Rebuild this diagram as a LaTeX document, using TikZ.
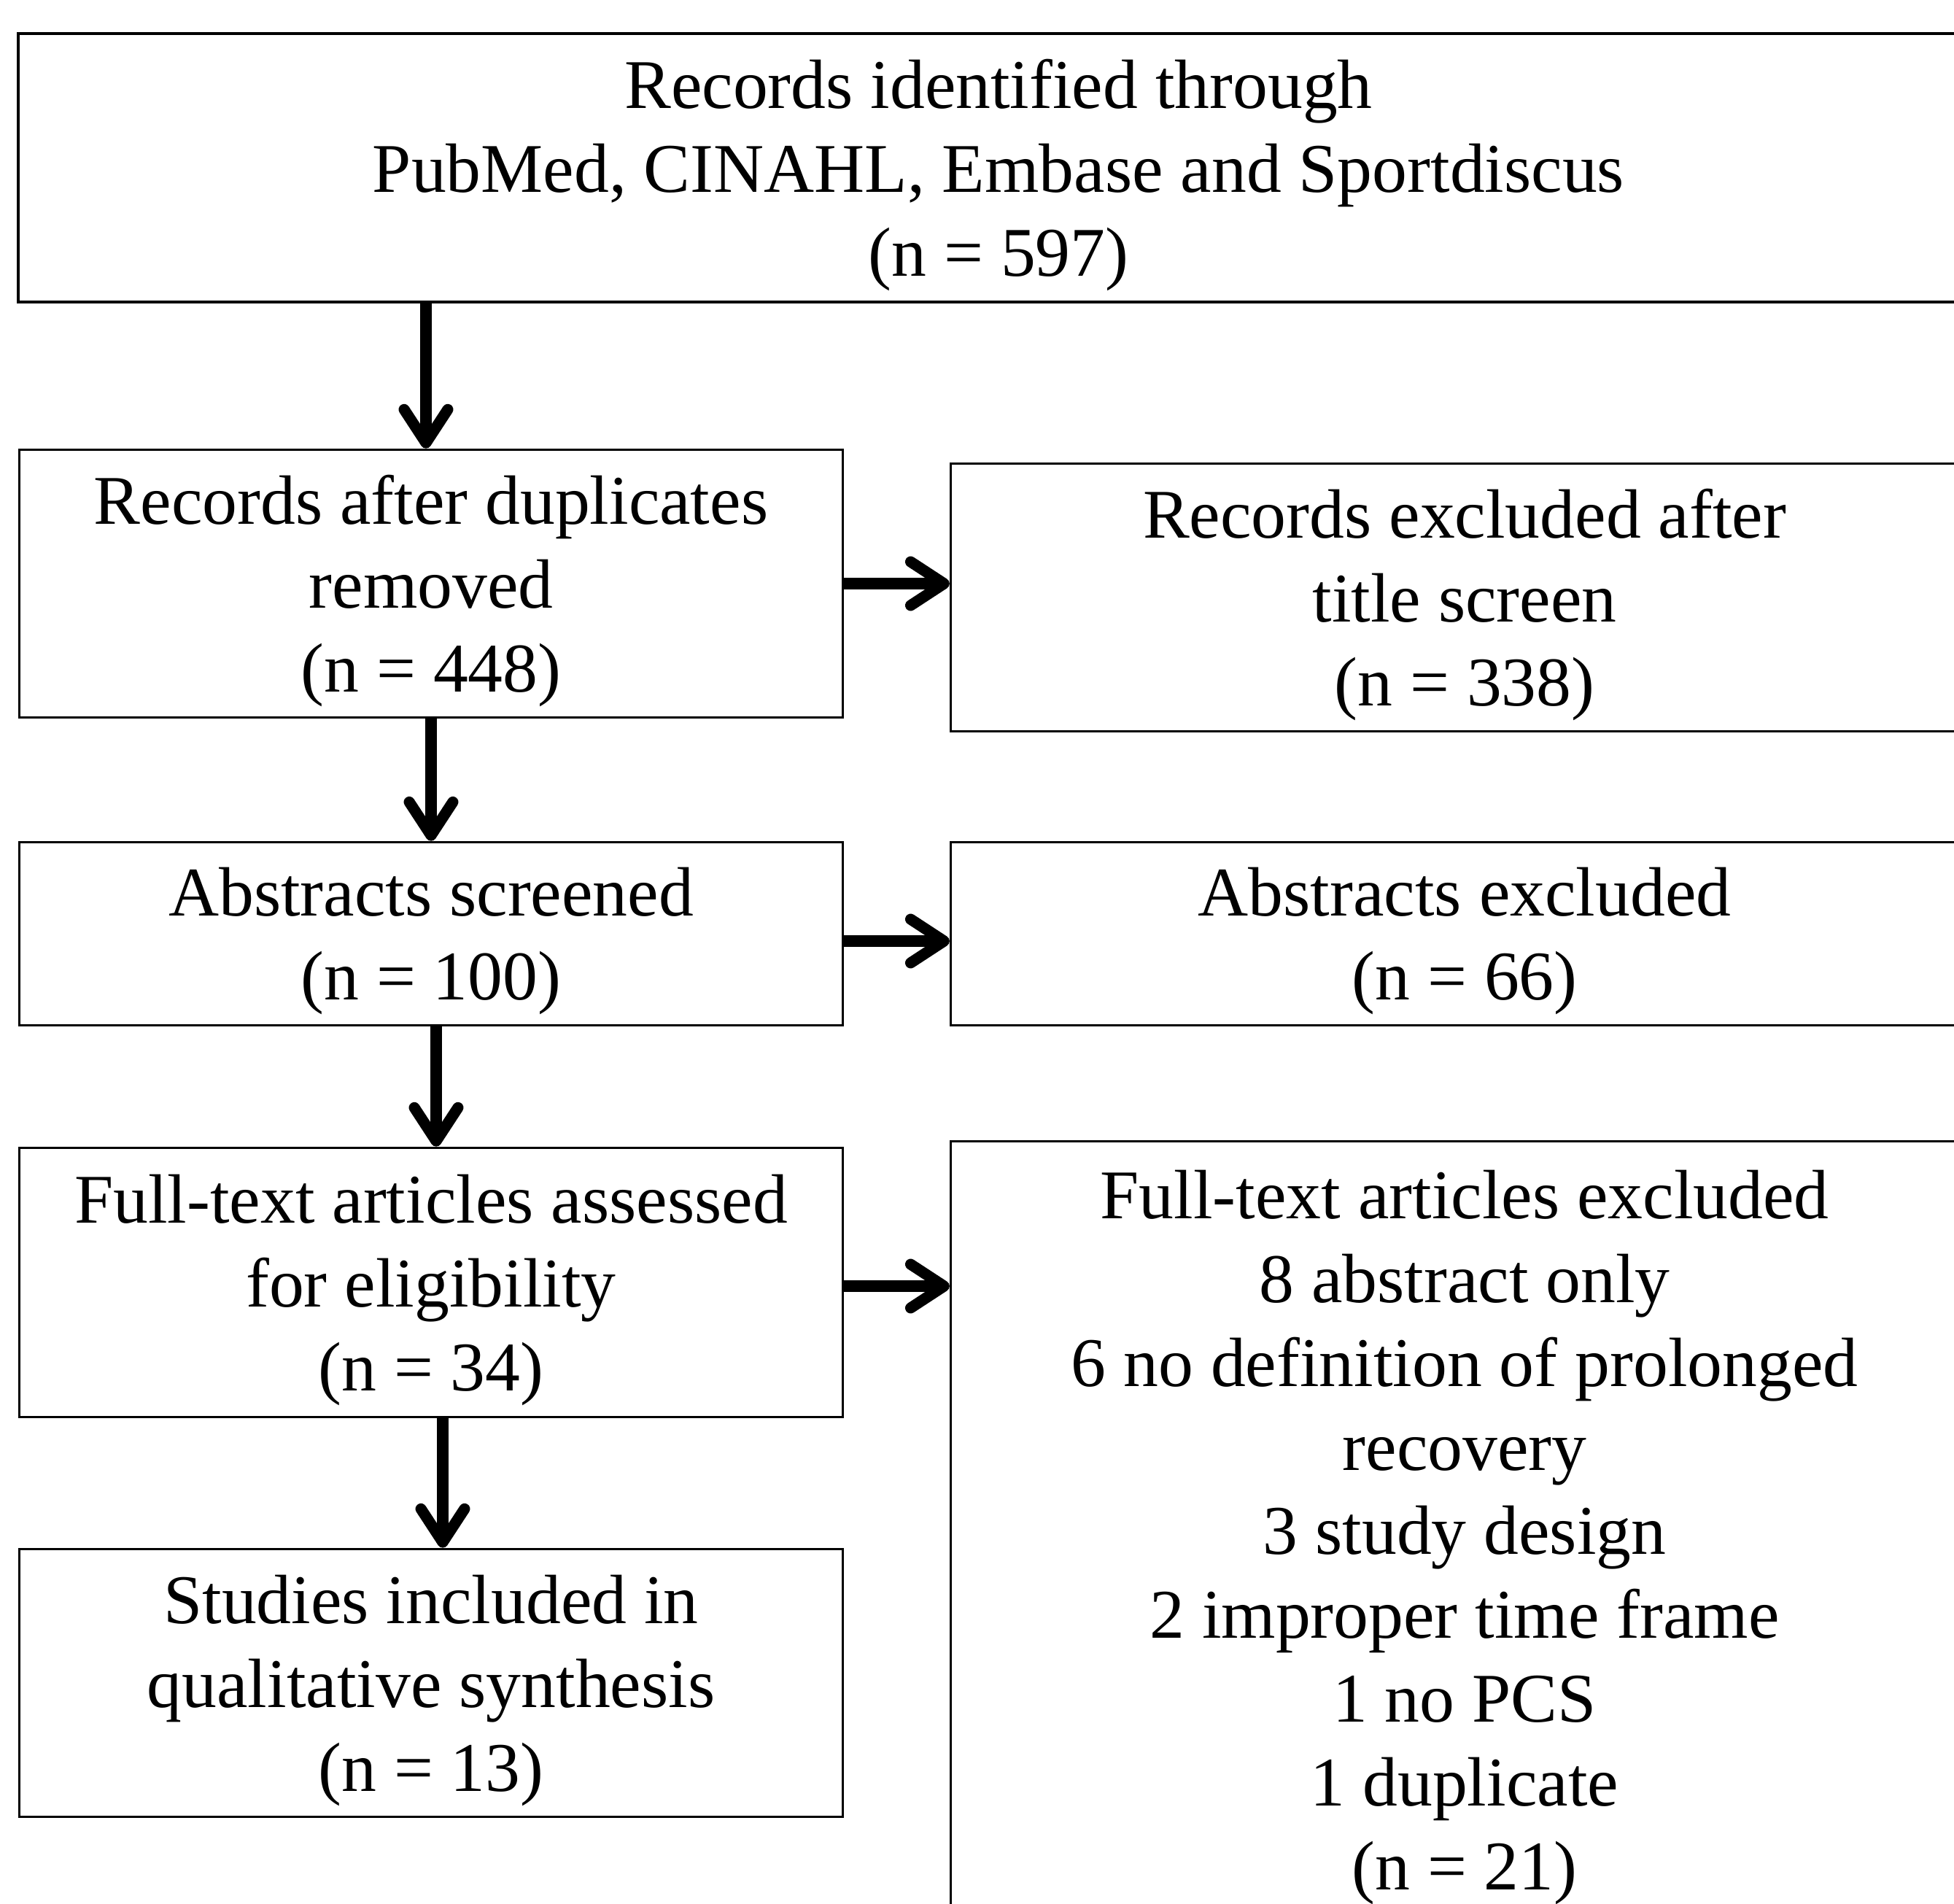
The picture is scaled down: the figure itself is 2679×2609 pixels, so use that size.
\documentclass[tikz,border=0pt]{standalone}
\usepackage{fontspec}
\setmainfont{Liberation Serif}
\usepackage{tikz}
\usetikzlibrary{arrows.meta}

\tikzset{
  box/.style={draw, line width=1pt, align=center, inner sep=0pt, text depth=0pt,
    font=\fontsize{27.2}{32.7}\selectfont},
  lbox/.style={box, minimum width=11.28cm, minimum height=3.67cm},
  rbox/.style={box, minimum width=14.08cm, minimum height=3.67cm},
  arr/.style={line width=4.3pt, -{Straight Barb[length=13pt,width=17pt,round]}}
}

\begin{document}
\begin{tikzpicture}[x=0.01cm, y=-0.01cm]
\useasboundingbox (0,0) rectangle (2679,2609);
\clip (0,0) rectangle (2679,2609);

% left column
\node[box, minimum width=26.86cm, minimum height=3.68cm] (ident) at (1369, 230)
  {Records identified through\\PubMed, CINAHL, Embase and Sportdiscus\\(n = 597)};
\node[lbox] (dupl) at (591, 800) {Records after duplicates\\removed\\(n = 448)};
\node[lbox, minimum height=2.51cm] (abst) at (591, 1280) {Abstracts screened\\(n = 100)};
\node[lbox, minimum height=3.69cm] (full) at (591, 1758) {Full-text articles assessed\\for eligibility\\(n = 34)};
\node[lbox] (incl) at (591, 2307) {Studies included in\\qualitative synthesis\\(n = 13)};

% right column
\node[rbox] (exttl) at (2008, 819) {Records excluded after\\title screen\\(n = 338)};
\node[rbox, minimum height=2.51cm] (exabs) at (2008, 1280) {Abstracts excluded\\(n = 66)};
\node[rbox, minimum height=10.64cm] (exfull) at (2008, 2097)
  {Full-text articles excluded\\8 abstract only\\6 no definition of prolonged\\recovery\\3 study design\\2 improper time frame\\1 no PCS\\1 duplicate\\(n = 21)};

% arrows down
\draw[arr] ([xshift=-0.07cm]ident.south -| dupl.north) -- ([xshift=-0.07cm]dupl.north);
\draw[arr] (dupl.south) -- (abst.north);
\draw[arr] ([xshift=0.07cm]abst.south) -- ([xshift=0.07cm]full.north);
\draw[arr] ([xshift=0.16cm]full.south) -- ([xshift=0.16cm]incl.north);

% arrows right
\draw[arr] (dupl.east) -- (dupl.east -| exttl.west);
\draw[arr] ([yshift=-0.1cm]abst.east) -- ([yshift=-0.1cm]exabs.west);
\draw[arr] ([yshift=-0.05cm]full.east) -- ([yshift=-0.05cm]full.east -| exfull.west);
\end{tikzpicture}
\end{document}
